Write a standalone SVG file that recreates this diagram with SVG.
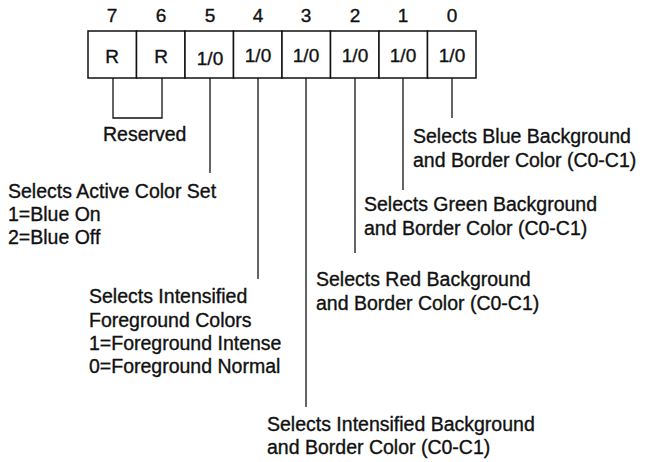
<svg xmlns="http://www.w3.org/2000/svg" width="647" height="462" viewBox="0 0 647 462">
<style>
text{font-family:"Liberation Sans",Arial,sans-serif;font-size:19.5px;fill:#111;stroke:#111;stroke-width:0.35}
.c{text-anchor:middle}
.n{font-size:19px}
.b{fill:#fff;stroke:#111;stroke-width:1.5}
.l{stroke:#111;stroke-width:1.3;fill:none}
</style>
<rect width="647" height="462" fill="#fff"/>
<g id="bitnumbers">
<text class="c n" x="112" y="22">7</text>
<text class="c n" x="161" y="22">6</text>
<text class="c n" x="210" y="22">5</text>
<text class="c n" x="258" y="22">4</text>
<text class="c n" x="306" y="22">3</text>
<text class="c n" x="355" y="22">2</text>
<text class="c n" x="403" y="22">1</text>
<text class="c n" x="452" y="22">0</text>
</g>
<g id="register">
<g id="bit7"><rect class="b" x="88" y="31" width="48.5" height="47"/><text class="c n" x="112" y="63">R</text></g>
<g id="bit6"><rect class="b" x="136.5" y="31" width="48.5" height="47"/><text class="c n" x="161" y="63">R</text></g>
<g id="bit5"><rect class="b" x="185" y="31" width="48.5" height="47"/><text class="c n" x="210" y="65">1/0</text></g>
<g id="bit4"><rect class="b" x="233.5" y="31" width="48.5" height="47"/><text class="c n" x="258" y="62">1/0</text></g>
<g id="bit3"><rect class="b" x="282" y="31" width="48.5" height="47"/><text class="c n" x="306" y="62">1/0</text></g>
<g id="bit2"><rect class="b" x="330.5" y="31" width="48.5" height="47"/><text class="c n" x="355" y="62">1/0</text></g>
<g id="bit1"><rect class="b" x="379" y="31" width="48.5" height="47"/><text class="c n" x="403" y="62">1/0</text></g>
<g id="bit0"><rect class="b" x="427.5" y="31" width="48.5" height="47"/><text class="c n" x="452" y="62">1/0</text></g>
</g>
<g id="connectors">
<path class="l" d="M113 78V118H162V78"/>
<path class="l" d="M210 78V173"/>
<path class="l" d="M258 78V279"/>
<path class="l" d="M306 78V407"/>
<path class="l" d="M355 78V253"/>
<path class="l" d="M403 78V190"/>
<path class="l" d="M452 78V118"/>
</g>
<g id="label-reserved"><text x="103" y="141">Reserved</text></g>
<g id="label-bit5">
<text x="8" y="198">Selects Active Color Set</text>
<text x="8" y="221">1=Blue On</text>
<text x="8" y="244">2=Blue Off</text>
</g>
<g id="label-bit4">
<text x="89" y="303">Selects Intensified</text>
<text x="89" y="327">Foreground Colors</text>
<text x="89" y="350">1=Foreground Intense</text>
<text x="89" y="373">0=Foreground Normal</text>
</g>
<g id="label-bit3">
<text x="267" y="431">Selects Intensified Background</text>
<text x="267" y="454">and Border Color (C0-C1)</text>
</g>
<g id="label-bit2">
<text x="316" y="286">Selects Red Background</text>
<text x="316" y="310">and Border Color (C0-C1)</text>
</g>
<g id="label-bit1">
<text x="364" y="211">Selects Green Background</text>
<text x="364" y="235">and Border Color (C0-C1)</text>
</g>
<g id="label-bit0">
<text x="413" y="143">Selects Blue Background</text>
<text x="413" y="167">and Border Color (C0-C1)</text>
</g>
</svg>
